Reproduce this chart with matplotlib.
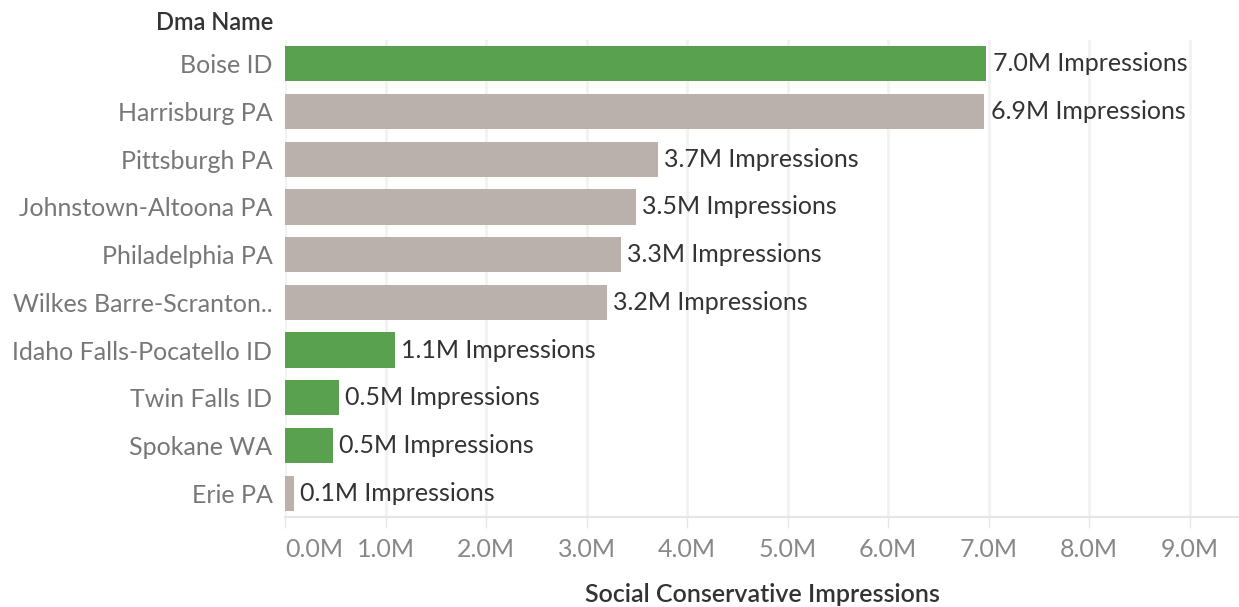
import matplotlib
matplotlib.use("Agg")
from matplotlib import pyplot as plt
import numpy as np

# datos
dmas = ["Boise ID", "Harrisburg PA", "Pittsburgh PA", "Johnstown-Altoona PA",
        "Philadelphia PA", "Wilkes Barre-Scranton..", "Idaho Falls-Pocatello ID",
        "Twin Falls ID", "Spokane WA", "Erie PA"]
impressions = [6.98, 6.96, 3.71, 3.49, 3.34, 3.20, 1.09, 0.54, 0.48, 0.09]
labels = ["7.0M", "6.9M", "3.7M", "3.5M", "3.3M", "3.2M", "1.1M", "0.5M", "0.5M", "0.1M"]
highlight = [True, False, False, False, False, False, True, True, True, False]
ticks = [0, 1, 2, 3, 4, 5, 6, 7, 8, 9]
tickLabels = ["%.1fM" % t for t in ticks]

plt.rcParams['font.family'] = ['Lato', 'DejaVu Sans']

W, H = 1239, 607
fig = plt.figure(figsize=(W / 100, H / 100), dpi=100)
ax = fig.add_axes([285 / W, 1 - 517 / H, 954 / W, 477 / H])

y = np.arange(len(dmas))
colors = ['#59a14f' if h else '#bab0ac' for h in highlight]
ax.barh(y, impressions, height=0.74, color=colors, zorder=2)

for yi, v, lab in zip(y, impressions, labels):
    ax.text(v + 0.06, yi, lab + " Impressions", va='center', ha='left',
            fontsize=18, color='#333333', zorder=3)

ax.set_xlim(0, 954 / 100.5)
ax.set_ylim(len(dmas) - 0.5, -0.5)
ax.set_yticks(y)
ax.set_yticklabels(dmas, fontsize=18, color='#777777')
ax.set_xticks(ticks)
ax.set_xticklabels(tickLabels, fontsize=18, color='#888888')
ax.get_xticklabels()[0].set_horizontalalignment('left')
ax.tick_params(axis='y', length=0, pad=9)
ax.tick_params(axis='x', length=8, color='#e6e6e6', width=1, pad=7)

ax.grid(axis='x', color='#f2f2f2', linewidth=2, zorder=0)
for s in ['top', 'right', 'left']:
    ax.spines[s].set_visible(False)
ax.spines['bottom'].set_color('#e6e6e6')
ax.spines['bottom'].set_linewidth(1.5)

ax.set_xlabel("Social Conservative Impressions", fontsize=18, color='#333333',
              labelpad=16, fontweight='semibold')
fig.text(273 / W, 1 - 23 / H, "Dma Name", ha='right', va='center',
         fontsize=17, color='#333333', fontweight='semibold')

fig.savefig("out.png", dpi=100, facecolor='white')
